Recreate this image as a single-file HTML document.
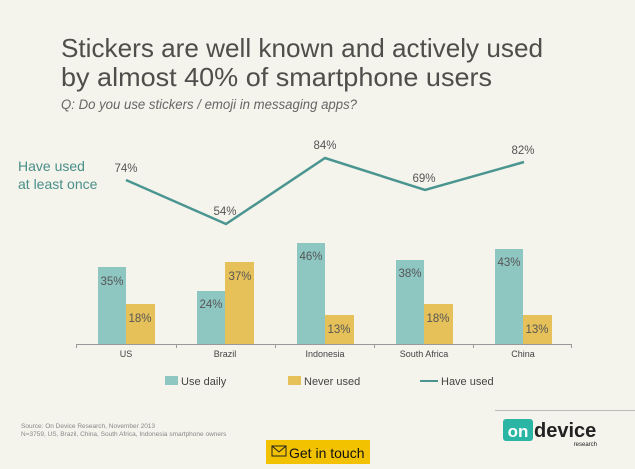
<!DOCTYPE html>
<html><head><meta charset="utf-8"><style>
body{margin:0;width:635px;height:464px;background:#f4f3ec;overflow:hidden;font-family:"Liberation Sans",sans-serif}
</style></head><body>
<svg width="635" height="464" xmlns="http://www.w3.org/2000/svg" font-family="Liberation Sans, sans-serif">
<rect width="635" height="464" fill="#f4f3ec"/>
<text x="61" y="57" font-size="26" fill="#4e4e4a" textLength="482" lengthAdjust="spacingAndGlyphs">Stickers are well known and actively used</text>
<text x="61" y="86" font-size="26" fill="#4e4e4a" textLength="431" lengthAdjust="spacingAndGlyphs">by almost 40% of smartphone users</text>
<text x="61" y="109" font-size="13.5" font-style="italic" fill="#666" textLength="296" lengthAdjust="spacingAndGlyphs">Q: Do you use stickers / emoji in messaging apps?</text>
<text x="18" y="171" font-size="14" fill="#4a8f8a">Have used</text>
<text x="18" y="189" font-size="14" fill="#4a8f8a">at least once</text>
<g fill="#8ec6c2">
<rect x="98" y="267" width="28" height="77"/>
<rect x="197" y="291" width="28" height="53"/>
<rect x="297" y="243" width="28" height="101"/>
<rect x="396" y="260" width="28" height="84"/>
<rect x="495" y="249" width="28" height="95"/>
</g>
<g fill="#e6c15a">
<rect x="126" y="304" width="29" height="40"/>
<rect x="225" y="262" width="29" height="82"/>
<rect x="325" y="315" width="29" height="29"/>
<rect x="424" y="304" width="29" height="40"/>
<rect x="523" y="315" width="29" height="29"/>
</g>
<g font-size="11.5" fill="#555" text-anchor="middle">
<text x="112" y="285">35%</text><text x="140" y="322">18%</text>
<text x="211" y="308">24%</text><text x="240" y="280">37%</text>
<text x="311" y="260">46%</text><text x="339" y="333">13%</text>
<text x="410" y="277">38%</text><text x="438" y="322">18%</text>
<text x="509" y="266">43%</text><text x="537" y="333">13%</text>
<text x="126" y="172">74%</text><text x="225" y="215">54%</text>
<text x="325" y="149">84%</text><text x="424" y="182">69%</text>
<text x="523" y="154">82%</text>
</g>
<polyline points="126,180 226,224 325,158 425,190 524,162" fill="none" stroke="#4a9590" stroke-width="2.5"/>
<g stroke="#999" stroke-width="1">
<line x1="76" y1="344.5" x2="572" y2="344.5"/>
<line x1="76.5" y1="344" x2="76.5" y2="348"/><line x1="176.5" y1="344" x2="176.5" y2="348"/>
<line x1="275.5" y1="344" x2="275.5" y2="348"/><line x1="374.5" y1="344" x2="374.5" y2="348"/>
<line x1="473.5" y1="344" x2="473.5" y2="348"/><line x1="571.5" y1="344" x2="571.5" y2="348"/>
</g>
<g font-size="9" fill="#444" text-anchor="middle">
<text x="126" y="357">US</text><text x="225" y="357">Brazil</text><text x="325" y="357">Indonesia</text>
<text x="424" y="357">South Africa</text><text x="523" y="357">China</text>
</g>
<rect x="165" y="376" width="13" height="9" fill="#8ec6c2"/>
<text x="181" y="385" font-size="11" fill="#444">Use daily</text>
<rect x="288" y="376" width="13" height="9" fill="#e6c15a"/>
<text x="304" y="385" font-size="11" fill="#444">Never used</text>
<line x1="420" y1="381" x2="438" y2="381" stroke="#4a9590" stroke-width="2"/>
<text x="441" y="385" font-size="11" fill="#444">Have used</text>
<text x="21" y="428" font-size="6.5" fill="#888">Source: On Device Research, November 2013</text>
<text x="21" y="436" font-size="6.5" fill="#888">N=3759, US, Brazil, China, South Africa, Indonesia smartphone owners</text>
<line x1="495" y1="410.5" x2="635" y2="410.5" stroke="#bbb"/>
<rect x="266" y="440" width="104" height="24" fill="#f2c200"/>
<rect x="272" y="446" width="14" height="10" fill="none" stroke="#222" stroke-width="1"/>
<polyline points="272,446 279,452 286,446" fill="none" stroke="#222"/>
<text x="289" y="458" font-size="14" fill="#111">Get in touch</text>
<rect x="503" y="419" width="30" height="22" rx="3" fill="#2bb5a5"/>
<text x="518" y="437" font-size="17" font-weight="bold" fill="#fff" text-anchor="middle">on</text>
<text x="534" y="437" font-size="20" font-weight="bold" fill="#222">device</text>
<text x="597" y="446" font-size="6" fill="#222" text-anchor="end">research</text>
</svg>
</body></html>
